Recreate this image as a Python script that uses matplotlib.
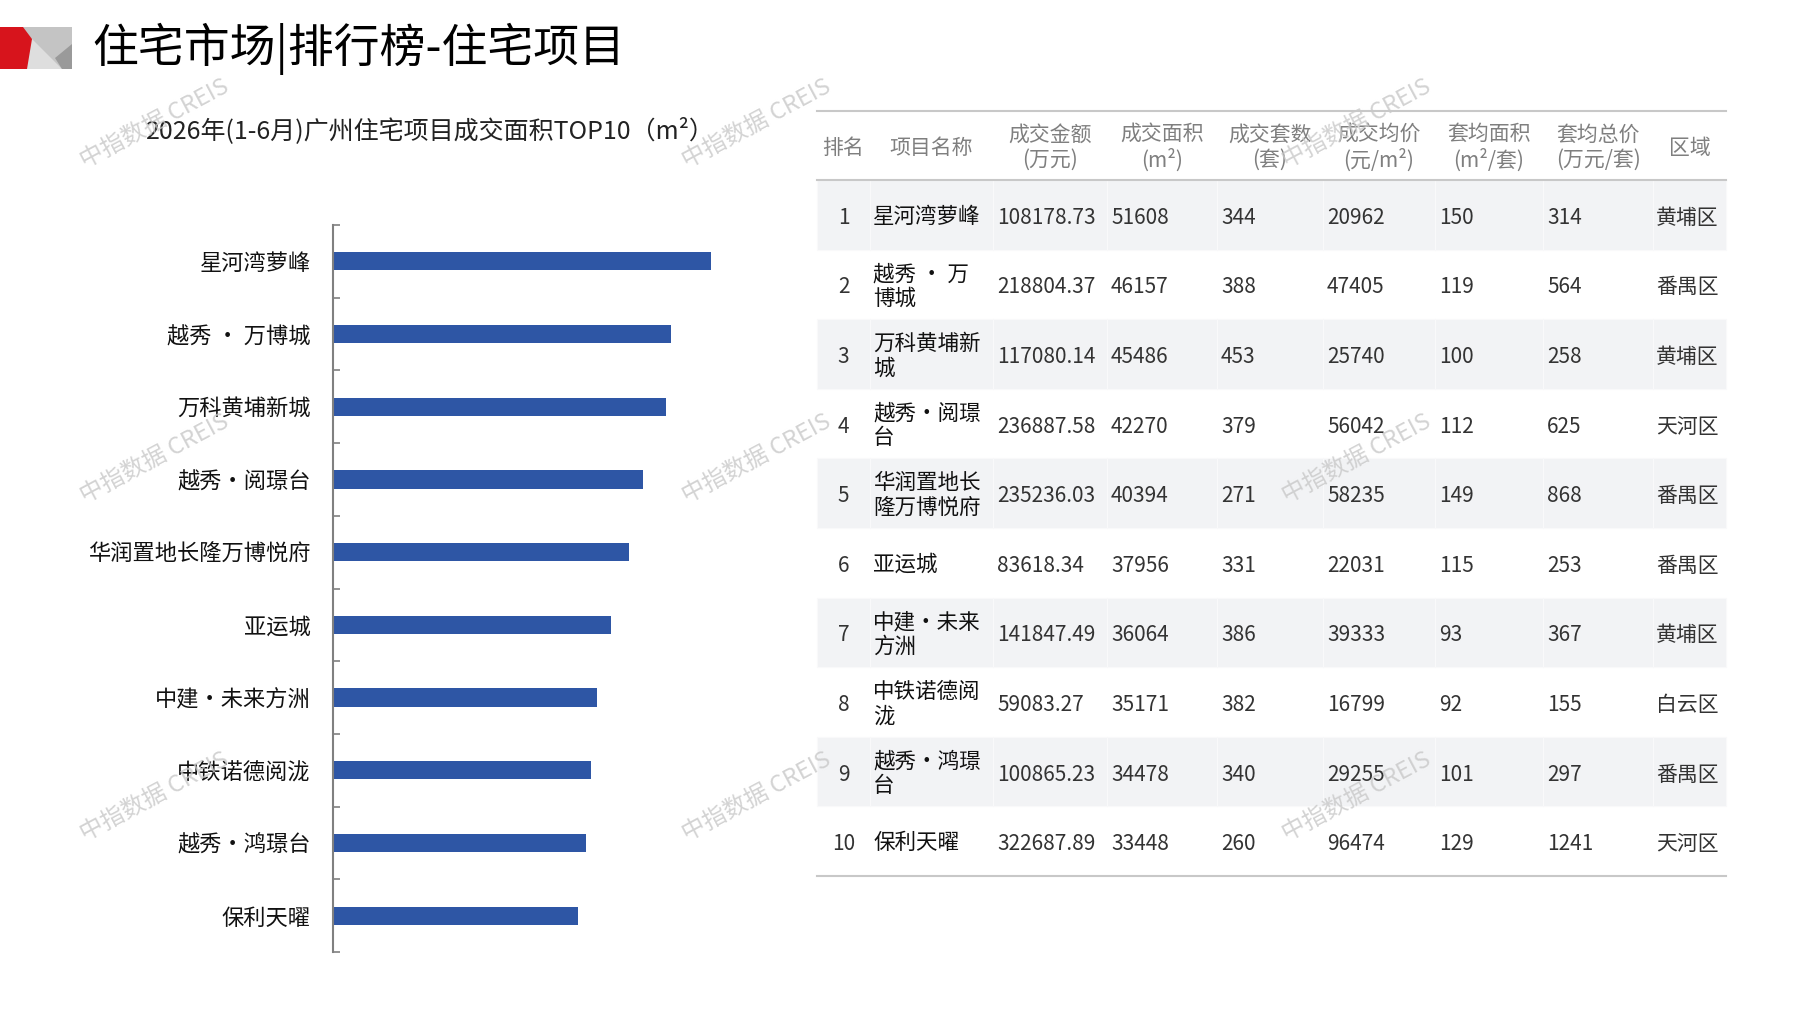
import numpy as np
import matplotlib.pyplot as plt
from matplotlib.patches import Polygon, Rectangle

plt.rcParams['font.family'] = ['Noto Sans CJK SC', 'DejaVu Sans']

# data
names = ["星河湾萝峰", "越秀 • 万博城", "万科黄埔新城", "越秀•阅璟台", "华润置地长隆万博悦府",
         "亚运城", "中建•未来方洲", "中铁诺德阅泷", "越秀•鸿璟台", "保利天曜"]
amount = [108178.73, 218804.37, 117080.14, 236887.58, 235236.03,
          83618.34, 141847.49, 59083.27, 100865.23, 322687.89]
area = [51608, 46157, 45486, 42270, 40394, 37956, 36064, 35171, 34478, 33448]
units = [344, 388, 453, 379, 271, 331, 386, 382, 340, 260]
price = [20962, 47405, 25740, 56042, 58235, 22031, 39333, 16799, 29255, 96474]
avg_area = [150, 119, 100, 112, 149, 115, 93, 92, 101, 129]
avg_total = [314, 564, 258, 625, 868, 253, 367, 155, 297, 1241]
district = ["黄埔区", "番禺区", "黄埔区", "天河区", "番禺区",
            "番禺区", "黄埔区", "白云区", "番禺区", "天河区"]
headers = ["排名", "项目名称", "成交金额\n(万元)", "成交面积\n(m²)", "成交套数\n(套)",
           "成交均价\n(元/m²)", "套均面积\n(m²/套)", "套均总价\n(万元/套)", "区域"]

W, H = 1797, 1010
fig = plt.figure(figsize=(W / 100, H / 100), dpi=100)

# full-figure overlay in pixel coords
bg = fig.add_axes([0, 0, 1, 1])
bg.set_xlim(0, W)
bg.set_ylim(H, 0)
bg.axis('off')

# logo
bg.add_patch(Rectangle((23, 27), 49, 42, color='#c4c4c4', lw=0))
bg.add_patch(Polygon([(23, 30), (23, 69), (62, 69)], color='#dedede', lw=0))
bg.add_patch(Polygon([(72, 44), (55, 58), (62, 69), (72, 69)], color='#9a9a9a', lw=0))
bg.add_patch(Polygon([(0, 27), (23, 27), (32, 39), (27, 69), (0, 69)], color='#d7141c', lw=0))

bg.text(92, 49, "住宅市场|排行榜-住宅项目", fontsize=33, va='center', ha='left', color='black')
bg.text(430, 131, "2026年(1-6月)广州住宅项目成交面积TOP10（m²）", fontsize=18,
        va='center', ha='center', color='#222222')

# bar chart
ax = fig.add_axes([333 / W, 1 - 952 / H, 440 / W, (952 - 225) / H])
ax.patch.set_alpha(0)
y = np.arange(len(names))
ax.barh(y, area, height=0.25, color='#2E56A5')
ax.set_ylim(len(names) - 0.5, -0.5)
ax.set_xlim(0, 60000 * 440 / 439.5)
ax.set_yticks(y)
ax.set_yticklabels(names, fontsize=16, color='#111111')
ax.set_yticks(np.arange(len(names) + 1) - 0.5, minor=True)
ax.tick_params(axis='y', which='major', length=0, pad=16)
ax.tick_params(axis='y', which='minor', length=5, direction='in', color='#808080', width=1.2)
ax.set_xticks([])
for s in ['top', 'right', 'bottom']:
    ax.spines[s].set_visible(False)
ax.spines['left'].set_color('#808080')
ax.spines['left'].set_linewidth(1.5)


def wrap(s, limit=5):
    out, w = "", 0
    for ch in s:
        cw = 0.5 if ch in " •" else 1
        if w + cw > limit:
            out += "\n"
            w = 0
        out += ch
        w += cw
    return out


# table
cols = [817, 870, 993, 1107, 1217, 1323, 1435, 1543, 1653, 1726]
top, head_bot, bot = 111, 180, 876
rh = (bot - head_bot) / len(names)

for i in range(len(names)):
    r0 = head_bot + i * rh
    if i % 2 == 0:
        for c in range(len(cols) - 1):
            bg.add_patch(Rectangle((cols[c], r0), cols[c + 1] - cols[c], rh,
                                   facecolor='#f2f3f5', edgecolor='#f9f9fa', lw=0.8))
    yc = r0 + rh / 2 + 3
    bg.text((cols[0] + cols[1]) / 2, yc, str(i + 1), ha='center', va='center',
            fontsize=15, color='#333333')
    bg.text(cols[1] + 3, yc - 1, wrap(names[i]), ha='left', va='center',
            fontsize=15.5, color='#111111', linespacing=1.15, fontweight='medium')
    vals = [f"{amount[i]:.2f}", str(area[i]), str(units[i]), str(price[i]),
            str(avg_area[i]), str(avg_total[i])]
    for k, v in enumerate(vals):
        bg.text(cols[2 + k] + 4, yc, v, ha='left', va='center', fontsize=15, color='#333333')
    bg.text(cols[8] + 3, yc, district[i], ha='left', va='center', fontsize=15, color='#333333')

for yy in [top, head_bot, bot]:
    bg.plot([cols[0], cols[-1]], [yy, yy], color='#c8c8c8', lw=1.5)

for c, h in enumerate(headers):
    bg.text((cols[c] + cols[c + 1]) / 2, (top + head_bot) / 2 + 2, h, ha='center', va='center',
            fontsize=15, color='#7f7f7f', linespacing=1.2)

# watermarks on top of everything
for wx in [155, 757, 1357]:
    for wy in [124, 459, 797]:
        fig.text(wx / W, 1 - wy / H, "中指数据 CREIS", rotation=28, fontsize=17,
                 color='#c8c8c8', alpha=0.8, ha='center', va='center', zorder=10)

fig.savefig('out.png', dpi=100)
